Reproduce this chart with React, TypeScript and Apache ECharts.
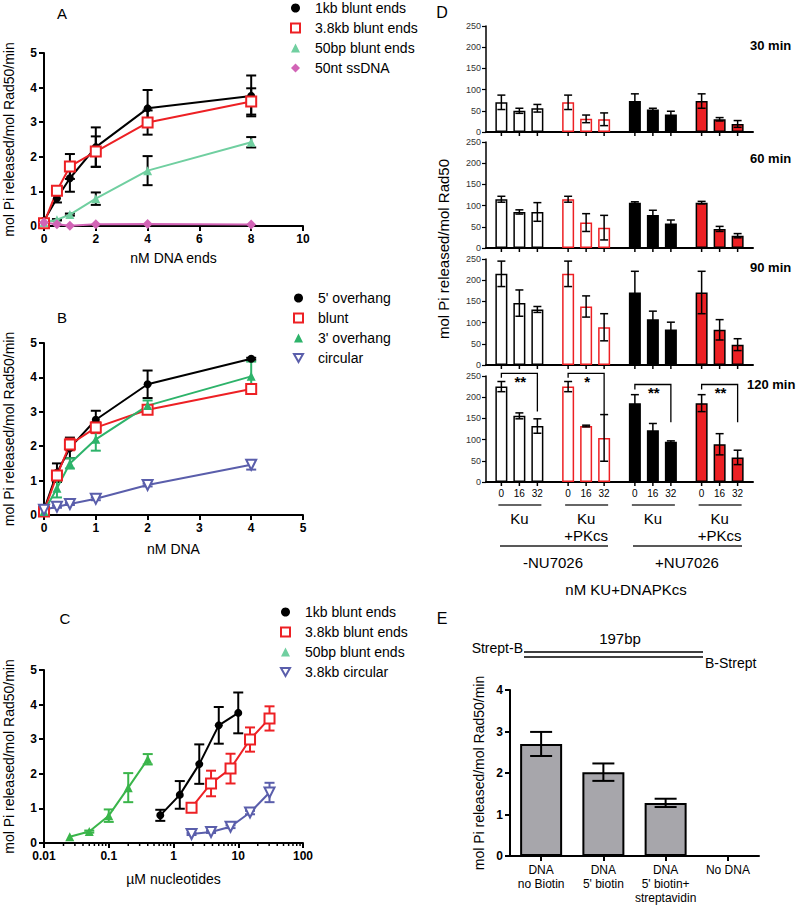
import React, { useEffect, useRef } from 'react';
import * as echarts from 'echarts';

const FONT = '"Liberation Sans", Arial, Helvetica, sans-serif';
const BLACK = '#000000';
const RED = '#ed2024';
const MINT = '#70cfa0';
const PINK = '#d264b6';
const GREEN_B = '#2db36a';
const GREEN_C = '#3ab54a';
const BLUE = '#5a5eab';
const GREY = '#a7a6ab';
const INV_TRI = 'path://M0,0L10,0L5,8.7Z';

// ---------- Panel A ----------
const aDnaEnds = [0, 0.5, 1, 2, 4, 8];
const a1kb = [0.15, 0.8, 1.38, 2.28, 3.4, 3.76];
const a1kbErr = [0, 0.12, 0.39, 0.57, 0.53, 0.59];
const a38kb = [0.08, 1.02, 1.72, 2.15, 2.99, 3.6];
const a38kbErr = [0, 0.05, 0.36, 0.44, 0.35, 0.38];
const a50bp = [0.1, 0.18, 0.33, 0.79, 1.6, 2.42];
const a50bpErr = [0, 0.02, 0.03, 0.18, 0.42, 0.15];
const a50nt = [0.1, 0.05, 0.01, 0.05, 0.06, 0.04];

// ---------- Panel B ----------
const bDna = [0, 0.25, 0.5, 1, 2, 4];
const b5Overhang = [0.15, 1.23, 1.95, 2.77, 3.8, 4.54];
const b5OverhangErr = [0, 0.27, 0.3, 0.26, 0.4, 0.03];
const bBlunt = [0.1, 1.15, 2.05, 2.54, 3.06, 3.66];
const bBluntErr = [0, 0.12, 0.17, 0.16, 0.07, 0.08];
const b3Overhang = [0.1, 0.78, 1.5, 2.2, 3.18, 4.03];
const b3OverhangErr = [0, 0.27, 0.15, 0.33, 0.15, 0.43];
const bCircular = [0.15, 0.24, 0.32, 0.47, 0.87, 1.46];
const bCircularErr = [0, 0.03, 0.03, 0.04, 0.04, 0.14];

// ---------- Panel C ----------
const c1kbX = [0.625, 1.25, 2.5, 5, 10];
const c1kb = [0.8, 1.39, 2.28, 3.4, 3.76];
const c1kbErr = [0.16, 0.4, 0.57, 0.53, 0.59];
const c38kbX = [1.9, 3.8, 7.6, 15.2, 30.4];
const c38kb = [1.02, 1.72, 2.15, 2.99, 3.6];
const c38kbErr = [0.05, 0.37, 0.43, 0.35, 0.35];
const c50bpX = [0.025, 0.05, 0.1, 0.2, 0.4];
const c50bp = [0.18, 0.33, 0.79, 1.6, 2.42];
const c50bpErr = [0, 0.03, 0.18, 0.42, 0.15];
const cCircX = [1.9, 3.8, 7.6, 15.2, 30.4];
const cCirc = [0.26, 0.32, 0.47, 0.88, 1.46];
const cCircErr = [0.03, 0.03, 0.04, 0.05, 0.28];
const cDecades = [0.01, 0.1, 1, 10];
const cMinorSteps = [2, 3, 4, 5, 6, 7, 8, 9];

// ---------- Panel D ----------
const dTimes = ['30 min', '60 min', '90 min', '120 min'];
const dGroups = ['Ku', 'Ku\n+PKcs', 'Ku', 'Ku\n+PKcs'];
const dDoses = ['0', '16', '32'];
const dInhibitor = ['-NU7026', '+NU7026'];
const d30 = [70, 50, 56, 70, 31, 30, 73, 53, 41, 73, 30, 19];
const d30Err = [17, 6, 9, 17, 9, 15, 17, 3, 8, 17, 4, 8];
const d60 = [115, 85, 85, 115, 60, 48, 107, 78, 58, 107, 45, 29];
const d60Err = [7, 5, 22, 7, 21, 29, 2, 11, 8, 3, 6, 5];
const d90 = [215, 146, 131, 215, 138, 89, 171, 108, 84, 171, 83, 48];
const d90Err = [30, 31, 7, 30, 25, 32, 50, 19, 17, 50, 24, 14];
const d120 = [225, 156, 132, 225, 132, 104, 186, 122, 95, 186, 89, 58];
const d120Err = [12, 7, 17, 12, 2, 55, 20, 16, 2, 20, 25, 17];
const d120Sig = ['**', '*', '**', '**'];
const d120SigTop = [256, 256, 230, 230];
const d120SigLeft = [246, 246, 218, 218];
const d120SigRight = [166, 160, 141, 141];

// ---------- Panel E ----------
const eConditions = ['DNA\nno Biotin', "DNA\n5' biotin", "DNA\n5' biotin+\nstreptavidin", 'No DNA'];
const eRate = [2.7, 2.02, 1.28, 0];
const eRateErr = [0.29, 0.21, 0.1, 0];

const Y_NAME = 'mol Pi released/mol Rad50/min';

function errorBarRender(color: string, cap: number, width: number) {
  return (params: any, api: any) => {
    const x = api.value(0);
    const y = api.value(1);
    const e = api.value(2);
    if (!e) return { type: 'group', children: [] };
    const t = api.coord([x, y + e]);
    const b = api.coord([x, y - e]);
    const style = { stroke: color, lineWidth: width };
    return {
      type: 'group',
      children: [
        { type: 'line', shape: { x1: t[0], y1: t[1], x2: b[0], y2: b[1] }, style },
        { type: 'line', shape: { x1: t[0] - cap / 2, y1: t[1], x2: t[0] + cap / 2, y2: t[1] }, style },
        { type: 'line', shape: { x1: b[0] - cap / 2, y1: b[1], x2: b[0] + cap / 2, y2: b[1] }, style },
      ],
    };
  };
}

function lineSeries(name: string, xs: number[], ys: number[], axis: number, color: string, symbol: string, size: number, hollow: boolean) {
  return {
    type: 'line',
    name,
    xAxisIndex: axis,
    yAxisIndex: axis,
    data: xs.map((x, i) => [x, ys[i]]),
    symbol,
    symbolSize: size,
    lineStyle: { color, width: 2 },
    itemStyle: hollow ? { color: '#fff', borderColor: color, borderWidth: 2 } : { color },
    emphasis: { disabled: true },
    z: 3,
  };
}

function errSeries(xs: number[], ys: number[], es: number[], axis: number, color: string, cap = 10, width = 2) {
  return {
    type: 'custom',
    xAxisIndex: axis,
    yAxisIndex: axis,
    data: xs.map((x, i) => [x, ys[i], es[i]]),
    renderItem: errorBarRender(color, cap, width),
    z: 2,
  };
}

const tickStyle = { show: true, length: 5, lineStyle: { color: BLACK, width: 2 } };
const lineAxis = { show: true, lineStyle: { color: BLACK, width: 2 } };
const boldLabel = { fontFamily: FONT, fontWeight: 'bold', fontSize: 12, color: BLACK, margin: 7 };

function scatterX(grid: number, min: number, max: number, interval: number, name: string, gap: number) {
  return {
    type: 'value', gridIndex: grid, min, max, interval,
    name, nameLocation: 'middle', nameGap: gap,
    nameTextStyle: { fontFamily: FONT, fontSize: 14, color: BLACK },
    axisLine: lineAxis, axisTick: tickStyle, axisLabel: boldLabel, splitLine: { show: false },
  };
}
function scatterY(grid: number) {
  return {
    type: 'value', gridIndex: grid, min: 0, max: 5, interval: 1,
    name: Y_NAME, nameLocation: 'middle', nameGap: 28,
    nameTextStyle: { fontFamily: FONT, fontSize: 14, color: BLACK },
    axisLine: lineAxis, axisTick: tickStyle, axisLabel: boldLabel, splitLine: { show: false },
  };
}

function dRender(showLabels: boolean) {
  return (params: any, api: any) => {
    const g = api.value(0);
    const y = api.value(1);
    const e = api.value(2);
    const d = api.value(3);
    const base = api.coord([g, 0]);
    const cx = base[0] + (d - 1) * 18;
    const yt = api.coord([g, y + e])[1];
    const yb = api.coord([g, y - e])[1];
    const st = { stroke: BLACK, lineWidth: 1.5 };
    const ch: any[] = [];
    if (e > 0) {
      ch.push({ type: 'line', shape: { x1: cx, y1: yt, x2: cx, y2: yb }, style: st });
      ch.push({ type: 'line', shape: { x1: cx - 4, y1: yt, x2: cx + 4, y2: yt }, style: st });
      ch.push({ type: 'line', shape: { x1: cx - 4, y1: yb, x2: cx + 4, y2: yb }, style: st });
    }
    ch.push({ type: 'line', shape: { x1: cx, y1: base[1], x2: cx, y2: base[1] + 4 }, style: st });
    if (showLabels) {
      ch.push({
        type: 'text', x: cx, y: base[1] + 11,
        style: { text: dDoses[d], font: `10px ${FONT}`, fill: BLACK, align: 'center', verticalAlign: 'middle' },
      });
      if (d === 1) {
        ch.push({ type: 'line', shape: { x1: cx - 21, y1: base[1] + 23, x2: cx + 22, y2: base[1] + 23 }, style: { stroke: '#333', lineWidth: 1.4 } });
      }
    }
    return { type: 'group', children: ch };
  };
}

function bracketRender(params: any, api: any) {
  const g = api.value(0);
  const top = api.value(1);
  const l = api.value(2);
  const r = api.value(3);
  const s = api.value(4);
  const c = api.coord([g, top]);
  const lx = c[0] - 18;
  const rx = c[0] + 18;
  const yl = api.coord([g, l])[1];
  const yr = api.coord([g, r])[1];
  return {
    type: 'group',
    children: [
      { type: 'polyline', shape: { points: [[lx, yl], [lx, c[1]], [rx, c[1]], [rx, yr]] }, style: { stroke: BLACK, lineWidth: 1.3, fill: 'none' } },
      { type: 'text', x: c[0] + 1, y: c[1] + 1, style: { text: d120Sig[s], font: `bold 15px ${FONT}`, fill: BLACK, align: 'center', verticalAlign: 'top' } },
    ],
  };
}

const groupStyles = [
  { color: '#fff', borderColor: BLACK, borderWidth: 1.5 },
  { color: '#fff', borderColor: RED, borderWidth: 1.5 },
  { color: BLACK, borderColor: BLACK, borderWidth: 1.5 },
  { color: RED, borderColor: BLACK, borderWidth: 1.5 },
];

function txt(text: string, x: number, y: number, size: number, opts: any = {}) {
  return {
    type: 'text', x, y, rotation: opts.rot || 0,
    style: {
      text, fill: BLACK, font: `${opts.weight || 'normal'} ${size}px ${FONT}`,
      align: opts.align || 'center', verticalAlign: 'middle',
    },
  };
}
function hline(x1: number, x2: number, y: number, w = 1.4, color = '#222') {
  return { type: 'line', shape: { x1, y1: y, x2, y2: y }, style: { stroke: color, lineWidth: w } };
}

function buildOption() {
  const dPanels = [
    { mean: d30, err: d30Err },
    { mean: d60, err: d60Err },
    { mean: d90, err: d90Err },
    { mean: d120, err: d120Err },
  ];
  const dTops = [26, 142, 259, 376];
  const dTimeY = [45, 158, 267, 384];

  const grid: any[] = [
    { left: 44, top: 53, width: 259, height: 173 },
    { left: 44, top: 343, width: 259, height: 172 },
    { left: 44, top: 670, width: 259, height: 173 },
    ...dTops.map((t) => ({ left: 486, top: t, width: 267, height: 106 })),
    { left: 510, top: 690, width: 249, height: 166 },
  ];

  const xAxis: any[] = [
    scatterX(0, 0, 10, 2, 'nM DNA ends', 25),
    scatterX(1, 0, 5, 1, 'nM DNA', 27),
    {
      type: 'log', logBase: 10, gridIndex: 2, min: 0.01, max: 100,
      name: 'µM nucleotides', nameLocation: 'middle', nameGap: 29,
      nameTextStyle: { fontFamily: FONT, fontSize: 14, color: BLACK },
      axisLine: lineAxis, axisTick: tickStyle,
      axisLabel: { ...boldLabel, formatter: (v: number) => String(Number(Number(v).toPrecision(3))) },
      splitLine: { show: false },
    },
    ...dTops.map((_, i) => ({
      type: 'category', gridIndex: 3 + i, data: dGroups,
      axisLine: { show: true, lineStyle: { color: BLACK, width: 2 } },
      axisTick: { show: false },
      axisLabel: i === 3
        ? { show: true, interval: 0, margin: 28, fontFamily: FONT, fontSize: 15, lineHeight: 17, color: BLACK }
        : { show: false },
      splitLine: { show: false },
    })),
    {
      type: 'category', gridIndex: 7, data: eConditions,
      axisLine: lineAxis,
      axisTick: { show: true, alignWithLabel: true, length: 5, lineStyle: { color: BLACK, width: 2 } },
      axisLabel: { interval: 0, margin: 7, fontFamily: FONT, fontSize: 12, lineHeight: 14, color: BLACK },
    },
  ];

  const yAxis: any[] = [
    scatterY(0),
    scatterY(1),
    scatterY(2),
    ...dTops.map((_, i) => ({
      type: 'value', gridIndex: 3 + i, min: 0, max: 250, interval: 50,
      axisLine: { show: true, lineStyle: { color: BLACK, width: 1.5 } },
      axisTick: { show: true, length: 4, lineStyle: { color: BLACK, width: 1.2 } },
      axisLabel: { fontFamily: FONT, fontSize: 9, color: '#333', margin: 5 },
      splitLine: { show: false },
    })),
    {
      type: 'value', gridIndex: 7, min: 0, max: 4, interval: 1,
      name: Y_NAME, nameLocation: 'middle', nameGap: 24,
      nameTextStyle: { fontFamily: FONT, fontSize: 14, color: BLACK },
      axisLine: lineAxis, axisTick: tickStyle, axisLabel: boldLabel, splitLine: { show: false },
    },
  ];

  const series: any[] = [
    // A
    errSeries(aDnaEnds, a1kb, a1kbErr, 0, BLACK),
    errSeries(aDnaEnds, a38kb, a38kbErr, 0, BLACK),
    errSeries(aDnaEnds, a50bp, a50bpErr, 0, BLACK),
    lineSeries('1kb blunt ends', aDnaEnds, a1kb, 0, BLACK, 'circle', 8, false),
    lineSeries('3.8kb blunt ends', aDnaEnds, a38kb, 0, RED, 'rect', 10, true),
    lineSeries('50bp blunt ends', aDnaEnds, a50bp, 0, MINT, 'triangle', 9, false),
    lineSeries('50nt ssDNA', aDnaEnds, a50nt, 0, PINK, 'diamond', 10, false),
    // B
    errSeries(bDna, b5Overhang, b5OverhangErr, 1, BLACK),
    errSeries(bDna, bBlunt, bBluntErr, 1, RED),
    errSeries(bDna, b3Overhang, b3OverhangErr, 1, GREEN_B),
    errSeries(bDna, bCircular, bCircularErr, 1, BLUE),
    lineSeries("5' overhang", bDna, b5Overhang, 1, BLACK, 'circle', 8, false),
    lineSeries('blunt', bDna, bBlunt, 1, RED, 'rect', 10, true),
    lineSeries("3' overhang", bDna, b3Overhang, 1, GREEN_B, 'triangle', 9, false),
    lineSeries('circular', bDna, bCircular, 1, BLUE, INV_TRI, 10, true),
    // C
    errSeries(c1kbX, c1kb, c1kbErr, 2, BLACK),
    errSeries(c38kbX, c38kb, c38kbErr, 2, RED),
    errSeries(c50bpX, c50bp, c50bpErr, 2, GREEN_C),
    errSeries(cCircX, cCirc, cCircErr, 2, BLUE),
    lineSeries('1kb blunt ends', c1kbX, c1kb, 2, BLACK, 'circle', 8, false),
    lineSeries('3.8kb blunt ends', c38kbX, c38kb, 2, RED, 'rect', 10, true),
    lineSeries('50bp blunt ends', c50bpX, c50bp, 2, GREEN_C, 'triangle', 9, false),
    lineSeries('3.8kb circular', cCircX, cCirc, 2, BLUE, INV_TRI, 10, true),
    {
      type: 'custom', xAxisIndex: 2, yAxisIndex: 2,
      data: cDecades.flatMap((dec) => cMinorSteps.map((m) => [dec * m, 0])),
      renderItem: (params: any, api: any) => {
        const p = api.coord([api.value(0), 0]);
        return { type: 'line', shape: { x1: p[0], y1: p[1], x2: p[0], y2: p[1] + 3 }, style: { stroke: BLACK, lineWidth: 1.5 } };
      },
      z: 1,
    },
  ];

  // D
  dPanels.forEach((panel, p) => {
    dDoses.forEach((_, d) => {
      series.push({
        type: 'bar', xAxisIndex: 3 + p, yAxisIndex: 3 + p,
        barWidth: 12, barGap: '50%',
        data: dGroups.map((__, g) => ({ value: panel.mean[g * 3 + d], itemStyle: groupStyles[g] })),
        emphasis: { disabled: true },
        z: 2,
      });
    });
    const items: any[] = [];
    dGroups.forEach((__, g) => dDoses.forEach((___, d) => items.push([g, panel.mean[g * 3 + d], panel.err[g * 3 + d], d])));
    series.push({
      type: 'custom', xAxisIndex: 3 + p, yAxisIndex: 3 + p,
      data: items, renderItem: dRender(p === 3), z: 4,
    });
  });
  series.push({
    type: 'custom', xAxisIndex: 6, yAxisIndex: 6,
    data: dGroups.map((_, g) => [g, d120SigTop[g], d120SigLeft[g], d120SigRight[g], g]),
    renderItem: bracketRender, z: 4,
  });

  // E
  series.push({
    type: 'bar', xAxisIndex: 7, yAxisIndex: 7, barWidth: 42,
    data: eRate,
    itemStyle: { color: GREY, borderColor: BLACK, borderWidth: 2 },
    emphasis: { disabled: true },
    z: 2,
  });
  series.push({
    type: 'custom', xAxisIndex: 7, yAxisIndex: 7,
    data: eRate.map((v, i) => [i, v, eRateErr[i]]),
    renderItem: errorBarRender(BLACK, 22, 2), z: 4,
  });

  const legendText = { fontFamily: FONT, fontSize: 14, color: BLACK, lineHeight: 16, padding: [0, 0, 0, 10] };
  const legendBase = {
    orient: 'vertical', padding: 0, itemGap: 4, itemWidth: 9, itemHeight: 9,
    selectedMode: false, textStyle: legendText,
  };
  const legend: any[] = [
    {
      ...legendBase, left: 290, top: 0,
      data: [
        { name: '1kb blunt ends', icon: 'circle' },
        { name: '3.8kb blunt ends', icon: 'rect' },
        { name: '50bp blunt ends', icon: 'triangle' },
        { name: '50nt ssDNA', icon: 'diamond' },
      ],
    },
    {
      ...legendBase, left: 293, top: 290,
      data: [
        { name: "5' overhang", icon: 'circle' },
        { name: 'blunt', icon: 'rect' },
        { name: "3' overhang", icon: 'triangle' },
        { name: 'circular', icon: INV_TRI },
      ],
    },
    {
      ...legendBase, left: 280, top: 604,
      data: [
        { name: '1kb blunt ends', icon: 'circle' },
        { name: '3.8kb blunt ends', icon: 'rect' },
        { name: '50bp blunt ends', icon: 'triangle' },
        { name: '3.8kb circular', icon: INV_TRI },
      ],
    },
  ];

  const graphic: any[] = [
    txt('A', 62, 13, 15),
    txt('B', 62, 317, 15),
    txt('C', 65, 618, 15),
    txt('D', 442, 12, 16),
    txt('E', 442, 618, 16),
    ...dTimes.map((t, i) => txt(t, i === 3 ? 747 : 750, dTimeY[i], 13, { weight: 'bold', align: 'left' })),
    txt('mol Pi released/mol Rad50', 443, 249, 15, { rot: Math.PI / 2 }),
    hline(500, 608, 546),
    hline(633, 742, 546),
    txt(dInhibitor[0], 553, 562, 15),
    txt(dInhibitor[1], 687, 562, 15),
    txt('nM KU+DNAPKcs', 626, 589, 15),
    txt('197bp', 620, 638, 15),
    txt('Strept-B', 523, 648, 14, { align: 'right' }),
    hline(524, 703, 652, 1.3, BLACK),
    hline(524, 703, 657, 1.3, BLACK),
    txt('B-Strept', 705, 663, 14, { align: 'left' }),
  ];

  return {
    animation: false,
    backgroundColor: '#fff',
    textStyle: { fontFamily: FONT },
    grid, xAxis, yAxis, series, legend,
    graphic: { elements: graphic },
  };
}

export default function App() {
  const ref = useRef<HTMLDivElement>(null);
  useEffect(() => {
    if (!ref.current) return;
    const chart = echarts.init(ref.current, undefined, { renderer: 'svg' });
    chart.setOption(buildOption() as any);
    return () => chart.dispose();
  }, []);
  return (
    <div
      ref={ref}
      style={{ position: 'absolute', left: 0, top: 0, width: 796, height: 907, background: '#fff' }}
    />
  );
}
